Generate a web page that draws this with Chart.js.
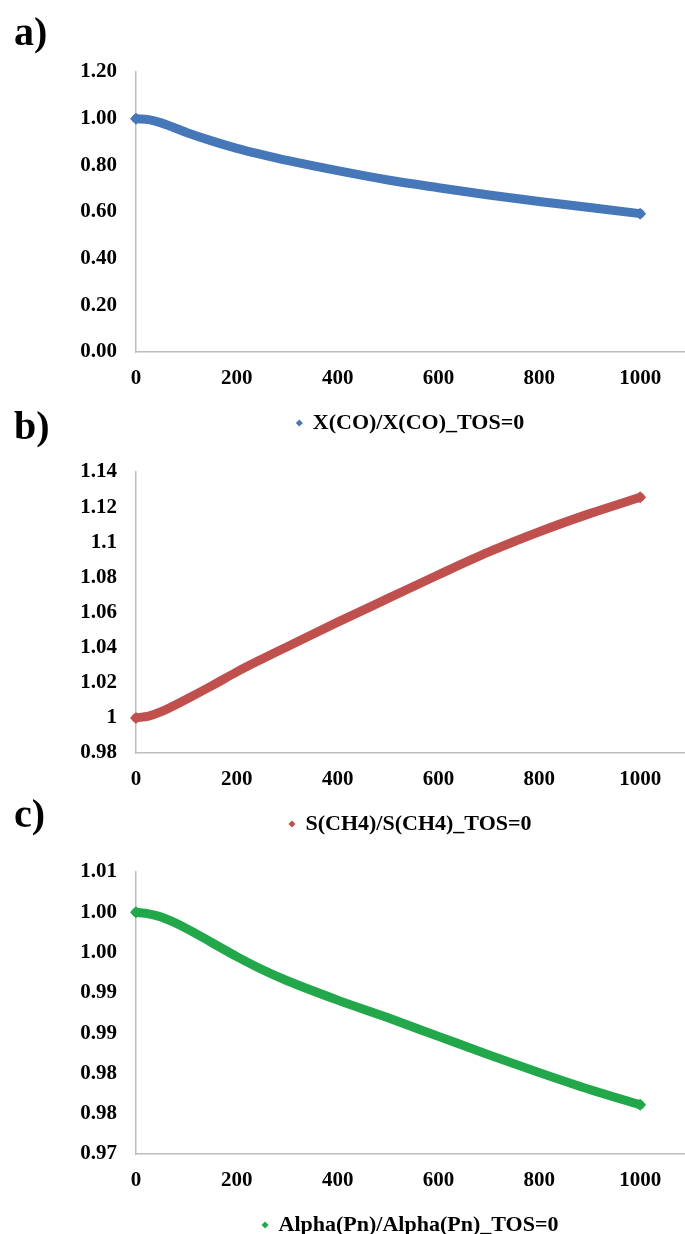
<!DOCTYPE html>
<html>
<head>
<meta charset="utf-8">
<script src="https://cdn.jsdelivr.net/npm/chart.js@4.4.1/dist/chart.umd.min.js"></script>
<style>
  html, body { margin: 0; padding: 0; background: #fff; }
  body { width: 685px; height: 1234px; position: relative; overflow: hidden; }
  .panel { position: absolute; left: 0; width: 685px; }
</style>
</head>
<body>
<div class="panel" style="top:0px;height:444px"><canvas id="chartA"></canvas></div>
<div class="panel" style="top:400px;height:445px"><canvas id="chartB"></canvas></div>
<div class="panel" style="top:780px;height:466px"><canvas id="chartC"></canvas></div>
<script>
// time on stream (x) and the three normalised series
const tos = [0, 25, 50, 100, 150, 200, 250, 300, 400, 500, 600, 700, 800, 900, 1000];
const xCO = [1.000, 0.996, 0.982, 0.941, 0.905, 0.873, 0.846, 0.821, 0.777, 0.737, 0.704, 0.673, 0.645, 0.619, 0.593];
const sCH4 = [1.000, 1.0010, 1.0035, 1.0106, 1.0182, 1.0262, 1.0335, 1.0405, 1.0545, 1.068, 1.0815, 1.0945, 1.106, 1.1163, 1.1256];
const alphaPn = [1.0000, 0.9998, 0.9994, 0.9980, 0.99625, 0.9945, 0.9929, 0.9915, 0.9891, 0.9869, 0.9846, 0.9823, 0.9801, 0.9780, 0.9761];

const xTicks = [0, 200, 400, 600, 800, 1000];
const yTicksA = [0, 0.2, 0.4, 0.6, 0.8, 1.0, 1.2];
const yLabelsA = ['0.00', '0.20', '0.40', '0.60', '0.80', '1.00', '1.20'];
const yTicksB = [0.98, 1.0, 1.02, 1.04, 1.06, 1.08, 1.1, 1.12, 1.14];
const yLabelsB = ['0.98', '1', '1.02', '1.04', '1.06', '1.08', '1.1', '1.12', '1.14'];
const yTicksC = [0.97, 0.975, 0.98, 0.985, 0.99, 0.995, 1.0, 1.005];
const yLabelsC = ['0.97', '0.98', '0.98', '0.99', '0.99', '1.00', '1.00', '1.01'];

const serif = "'Liberation Serif', 'Times New Roman', serif";
const axisColor = '#bdbdbd';

function makePanel(canvasId, cfg) {
    const points = tos.map((t, i) => ({ x: t, y: cfg.values[i] }));
    const last = points.length - 1;
    return new Chart(document.getElementById(canvasId), {
        type: 'line',
        data: {
            datasets: [{
                label: cfg.label,
                data: points,
                borderColor: cfg.color,
                backgroundColor: cfg.color,
                borderWidth: 9,
                borderCapStyle: 'round',
                cubicInterpolationMode: 'monotone',
                pointStyle: 'rectRot',
                pointRadius: points.map((p, i) => (i === 0 || i === last) ? 6 : 0),
                pointBorderWidth: 0,
                fill: false,
                clip: false
            }]
        },
        options: {
            responsive: true,
            maintainAspectRatio: false,
            animation: false,
            layout: { autoPadding: false, padding: { left: 14, right: 0, top: 0, bottom: 0 } },
            plugins: {
                title: {
                    display: true,
                    text: cfg.panel,
                    align: 'start',
                    color: '#000',
                    font: { family: serif, size: 40, weight: 'bold', lineHeight: 1.2 },
                    padding: { top: cfg.titleTop, bottom: cfg.titleBottom }
                },
                legend: {
                    position: 'bottom',
                    fullSize: false,
                    labels: {
                        usePointStyle: true,
                        boxWidth: 5,
                        boxHeight: 5,
                        padding: 10,
                        color: '#000',
                        font: { family: serif, size: 22, weight: 'bold' },
                        generateLabels: chart => Chart.defaults.plugins.legend.labels.generateLabels(chart)
                            .map(l => Object.assign(l, { lineWidth: 0, pointStyle: 'rectRot' }))
                    }
                },
                tooltip: { enabled: false }
            },
            scales: {
                x: {
                    type: 'linear',
                    min: 0,
                    max: 1089,
                    grid: { display: false, drawTicks: false },
                    border: { color: axisColor, width: 1.5 },
                    ticks: {
                        padding: 14,
                        color: '#000',
                        font: { family: serif, size: 21, weight: 'bold' },
                        callback: v => String(v)
                    },
                    afterBuildTicks: s => { s.ticks = xTicks.map(v => ({ value: v })); },
                    afterFit: s => { s.height = 50; s.paddingRight = 0; }
                },
                y: {
                    min: cfg.yTicks[0],
                    max: cfg.yTicks[cfg.yTicks.length - 1],
                    grid: { display: false, drawTicks: false },
                    border: { color: axisColor, width: 1.5 },
                    ticks: {
                        padding: 19,
                        color: '#000',
                        font: { family: serif, size: 21, weight: 'bold' },
                        callback: (v, i) => cfg.yLabels[i]
                    },
                    afterBuildTicks: s => { s.ticks = cfg.yTicks.map(v => ({ value: v })); },
                    afterFit: s => { s.width = 122; }
                }
            }
        }
    });
}

makePanel('chartA', {
    panel: 'a)', label: 'X(CO)/X(CO)_TOS=0', values: xCO, color: '#4677b8',
    yTicks: yTicksA, yLabels: yLabelsA, titleTop: 10.5, titleBottom: 13.5
});
makePanel('chartB', {
    panel: 'b)', label: 'S(CH4)/S(CH4)_TOS=0', values: sCH4, color: '#c0504d',
    yTicks: yTicksB, yLabels: yLabelsB, titleTop: 5, titleBottom: 19
});
makePanel('chartC', {
    panel: 'c)', label: 'Alpha(Pn)/Alpha(Pn)_TOS=0', values: alphaPn, color: '#22a84a',
    yTicks: yTicksC, yLabels: yLabelsC, titleTop: 13, titleBottom: 31
});
</script>
</body>
</html>
